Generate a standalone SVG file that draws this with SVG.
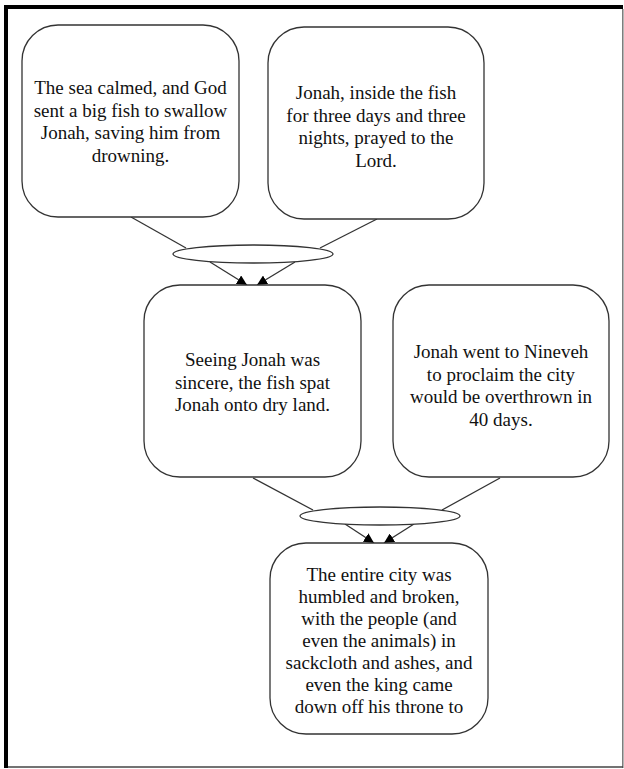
<svg xmlns="http://www.w3.org/2000/svg" width="624" height="769" viewBox="0 0 624 769">
<defs>
<style>
.box{fill:#fff;stroke:#333;stroke-width:1.3}
.join{fill:#fff;stroke:#333;stroke-width:1.3}
.t{font-family:"Liberation Serif","Times New Roman",serif;font-size:19px;fill:#111;text-anchor:middle}
.c{stroke:#333;stroke-width:1.3;fill:none}
</style>
<marker id="ah" viewBox="0 0 10 10" refX="10" refY="5" markerWidth="10" markerHeight="10" markerUnits="userSpaceOnUse" orient="auto">
<path d="M0,0 L10,5 L0,10 z" fill="#000"/>
</marker>
</defs>
<rect width="624" height="769" fill="#fff"/>
<g id="frame">
<line x1="6" y1="5" x2="6" y2="768" stroke="#000" stroke-width="4"/>
<line x1="4" y1="7" x2="623" y2="7" stroke="#000" stroke-width="4"/>
<line x1="622.8" y1="9" x2="622.8" y2="768" stroke="#777" stroke-width="1.5"/>
<line x1="8" y1="767" x2="623" y2="767" stroke="#444" stroke-width="1.3"/>
</g>
<g id="connectors">
<line class="c" x1="131" y1="217" x2="186" y2="248"/>
<line class="c" x1="377" y1="219" x2="320" y2="248"/>
<line class="c" x1="210" y1="262" x2="247" y2="285" marker-end="url(#ah)"/>
<line class="c" x1="295" y1="262" x2="257" y2="285" marker-end="url(#ah)"/>
<line class="c" x1="253" y1="478" x2="313" y2="510"/>
<line class="c" x1="500" y1="478" x2="442" y2="510"/>
<line class="c" x1="345" y1="524" x2="374" y2="543" marker-end="url(#ah)"/>
<line class="c" x1="414" y1="524" x2="384" y2="543" marker-end="url(#ah)"/>
</g>
<g id="join1"><ellipse class="join" cx="253" cy="254" rx="80" ry="9"/></g>
<g id="join2"><ellipse class="join" cx="380" cy="516" rx="80" ry="9"/></g>
<g id="node1">
<rect class="box" x="22" y="25" width="217" height="192" rx="36" ry="36"/>
<text class="t"><tspan x="130.5" y="94">The sea calmed, and God</tspan><tspan x="130.5" y="116.5">sent a big fish to swallow</tspan><tspan x="130.5" y="139">Jonah, saving him from</tspan><tspan x="130.5" y="161.5">drowning.</tspan></text>
</g>
<g id="node2">
<rect class="box" x="268" y="27" width="216" height="192" rx="36" ry="36"/>
<text class="t"><tspan x="376" y="99">Jonah, inside the fish</tspan><tspan x="376" y="121.5">for three days and three</tspan><tspan x="376" y="144">nights, prayed to the</tspan><tspan x="376" y="166.5">Lord.</tspan></text>
</g>
<g id="node3">
<rect class="box" x="144" y="285" width="217" height="192" rx="36" ry="36"/>
<text class="t"><tspan x="252.5" y="366">Seeing Jonah was</tspan><tspan x="252.5" y="388.5">sincere, the fish spat</tspan><tspan x="252.5" y="411">Jonah onto dry land.</tspan></text>
</g>
<g id="node4">
<rect class="box" x="393" y="285" width="216" height="192" rx="36" ry="36"/>
<text class="t"><tspan x="501" y="358">Jonah went to Nineveh</tspan><tspan x="501" y="380.5">to proclaim the city</tspan><tspan x="501" y="403">would be overthrown in</tspan><tspan x="501" y="425.5">40 days.</tspan></text>
</g>
<g id="node5">
<rect class="box" x="270" y="543" width="218" height="191" rx="36" ry="36"/>
<text class="t"><tspan x="379" y="581">The entire city was</tspan><tspan x="379" y="603">humbled and broken,</tspan><tspan x="379" y="625">with the people (and</tspan><tspan x="379" y="647">even the animals) in</tspan><tspan x="379" y="669">sackcloth and ashes, and</tspan><tspan x="379" y="691">even the king came</tspan><tspan x="379" y="713">down off his throne to</tspan></text>
</g>
</svg>
